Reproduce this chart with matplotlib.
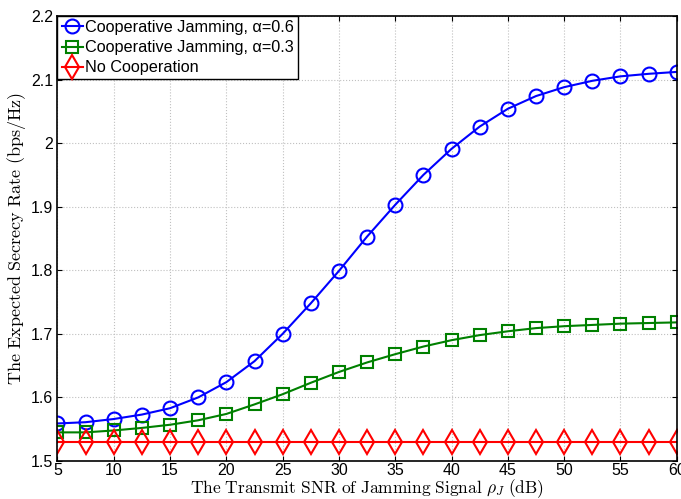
import numpy as np
import matplotlib.pyplot as plt

snr = [5, 7.5, 10, 12.5, 15, 17.5, 20, 22.5, 25, 27.5, 30, 32.5, 35, 37.5,
       40, 42.5, 45, 47.5, 50, 52.5, 55, 57.5, 60]
coop_06 = [1.559, 1.561, 1.566, 1.573, 1.583, 1.600, 1.624, 1.657, 1.700,
           1.748, 1.799, 1.853, 1.903, 1.950, 1.991, 2.026, 2.054, 2.074,
           2.088, 2.098, 2.105, 2.109, 2.112]
coop_03 = [1.545, 1.545, 1.548, 1.552, 1.557, 1.564, 1.574, 1.589, 1.605,
           1.623, 1.640, 1.655, 1.668, 1.680, 1.690, 1.698, 1.704, 1.709,
           1.712, 1.714, 1.716, 1.717, 1.718]
no_coop = [1.530] * len(snr)

plt.rcParams['font.family'] = 'Liberation Sans'
plt.rcParams['mathtext.fontset'] = 'cm'

fig = plt.figure(figsize=(6.81, 4.99), dpi=100)
ax = fig.add_axes([0.0844, 0.0762, 0.9093, 0.8918])

ax.plot(snr, coop_06, '-o', color='#0000ff', lw=1.5, ms=10, mew=1.5,
        mfc='none', label='Cooperative Jamming, \u03b1=0.6')
ax.plot(snr, coop_03, '-s', color='#008000', lw=1.5, ms=9, mew=1.5,
        mfc='none', label='Cooperative Jamming, \u03b1=0.3')
ax.plot(snr, no_coop, '-d', color='#ff0000', lw=1.5, ms=12, mew=1.5,
        mfc='none', label='No Cooperation')

ax.set_xlim(5, 60)
ax.set_ylim(1.5, 2.2)
ax.set_xticks(np.arange(5, 61, 5))
ax.set_yticks(np.arange(1.5, 2.21, 0.1))
ax.set_yticklabels(['1.5', '1.6', '1.7', '1.8', '1.9', '2', '2.1', '2.2'])
ax.tick_params(direction='in', labelsize=11.5, top=True, right=True, pad=3)
ax.tick_params(axis='x', pad=1.5)
ax.grid(True, ls=':', color='#c0c0c0', lw=0.8)
for s in ax.spines.values():
    s.set_linewidth(1.2)

ax.set_xlabel(r'$\mathrm{The\ Transmit\ SNR\ of\ Jamming\ Signal}\ \rho_J\ \mathrm{(dB)}$',
              fontsize=12.5, labelpad=-0.5)
ax.set_ylabel(r'$\mathrm{The\ Expected\ Secrecy\ Rate\ (bps/Hz)}$',
              fontsize=13, labelpad=2)

leg = ax.legend(loc='upper left', fontsize=11.7, fancybox=False, framealpha=1,
                edgecolor='black', borderaxespad=0, handlelength=1.3,
                handletextpad=0.15, borderpad=0.25, labelspacing=0.32)
leg.get_frame().set_linewidth(1.0)

fig.savefig('out.png', dpi=100)
